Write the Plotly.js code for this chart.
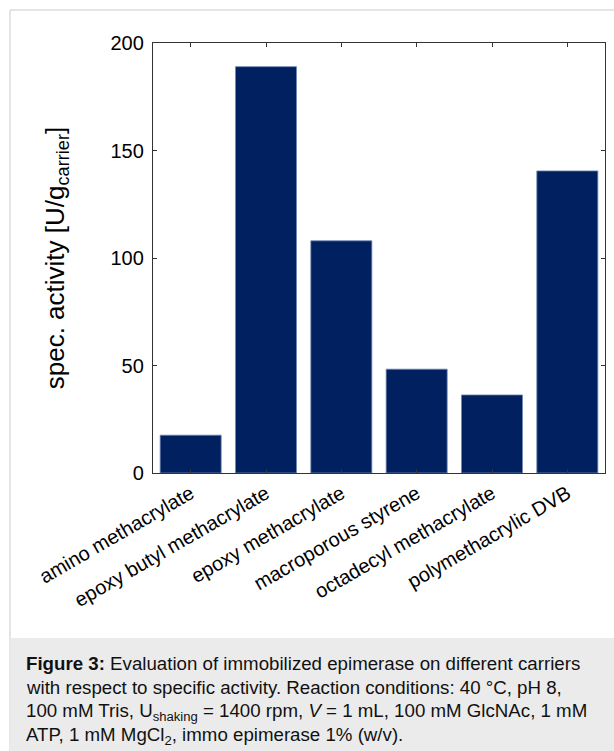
<!DOCTYPE html>
<html>
<head>
<meta charset="utf-8">
<script src="https://cdn.plot.ly/plotly-3.0.1.min.js"></script>
<style>
  html, body { margin: 0; padding: 0; background: #fff; }
  #chart { width: 614px; height: 751px; }
</style>
</head>
<body>
<div id="chart"></div>
<script>
// Data
const carriers = [
  "amino methacrylate",
  "epoxy butyl methacrylate",
  "epoxy methacrylate",
  "macroporous styrene",
  "octadecyl methacrylate",
  "polymethacrylic DVB"
];
const specActivity = [17.6, 189, 108, 48.3, 36.3, 140.5];
const yTicks = [0, 50, 100, 150, 200];
const captionLines = [
  "<b>Figure 3:</b> Evaluation of immobilized epimerase on different carriers",
  "with respect to specific activity. Reaction conditions: 40 °C, pH 8,",
  "100 mM Tris, U<sub>shaking</sub> = 1400 rpm, <i>V</i> = 1 mL, 100 mM GlcNAc, 1 mM",
  "ATP, 1 mM MgCl<sub>2</sub>, immo epimerase 1% (w/v)."
];

// Pixel geometry helpers
const W = 614, H = 751;
const M = {l: 153, r: 9, t: 43, b: 278};
const pw = W - M.l - M.r, ph = H - M.t - M.b;
const px = x => (x - M.l) / pw;
const py = y => (H - M.b - y) / ph;

const font = "Liberation Sans, Arial, Helvetica, sans-serif";
const axisColor = "#333333";

const trace = {
  type: "bar",
  x: carriers,
  y: specActivity,
  marker: {color: "#00205f", line: {color: "#6f86b3", width: 0.8}},
  hoverinfo: "x+y"
};

const captionY = [663, 687.5, 712, 736];
const annotations = captionLines.map((t, i) => ({
  text: t, xref: "paper", yref: "paper",
  x: px(24), y: py(captionY[i]), xanchor: "left", yanchor: "middle",
  showarrow: false, align: "left",
  font: {family: font, size: 18.7, color: "#111"}
}));

const layout = {
  width: W, height: H,
  margin: M,
  paper_bgcolor: "#ffffff",
  plot_bgcolor: "#ffffff",
  showlegend: false,
  bargap: 0.19,
  font: {family: font, color: "#000"},
  xaxis: {
    type: "category",
    tickangle: -30,
    ticks: "inside", ticklen: 4, tickcolor: axisColor, tickwidth: 1,
    showline: true, linecolor: axisColor, linewidth: 1.2, mirror: "ticks",
    showgrid: false, zeroline: false,
    tickfont: {family: font, size: 20, color: "#000"},
    automargin: false
  },
  yaxis: {
    range: [0, 200],
    tickvals: yTicks,
    ticktext: yTicks.map(String),
    ticks: "inside", ticklen: 4, tickcolor: axisColor, tickwidth: 1,
    ticklabelstandoff: 4,
    showline: true, linecolor: axisColor, linewidth: 1.2, mirror: "ticks",
    showgrid: false, zeroline: false,
    tickfont: {family: font, size: 20, color: "#000"},
    title: {text: "spec. activity [U/g<sub>carrier</sub>]", font: {family: font, size: 26, color: "#000"}, standoff: 38},
    automargin: true
  },
  shapes: [
    {type: "line", xref: "paper", yref: "paper", x0: px(10), x1: px(10), y0: py(10), y1: py(751), line: {color: "#dcdcdc", width: 1.5}, layer: "below"},
    {type: "line", xref: "paper", yref: "paper", x0: px(10), x1: px(614), y0: py(10), y1: py(10), line: {color: "#dcdcdc", width: 1.5}, layer: "below"},
    {type: "rect", xref: "paper", yref: "paper", x0: px(10), x1: px(614), y0: py(638), y1: py(751), fillcolor: "#ebebeb", line: {width: 0}, layer: "below"}
  ],
  annotations: annotations
};

Plotly.newPlot("chart", [trace], layout, {displayModeBar: false, staticPlot: true});
</script>
</body>
</html>
